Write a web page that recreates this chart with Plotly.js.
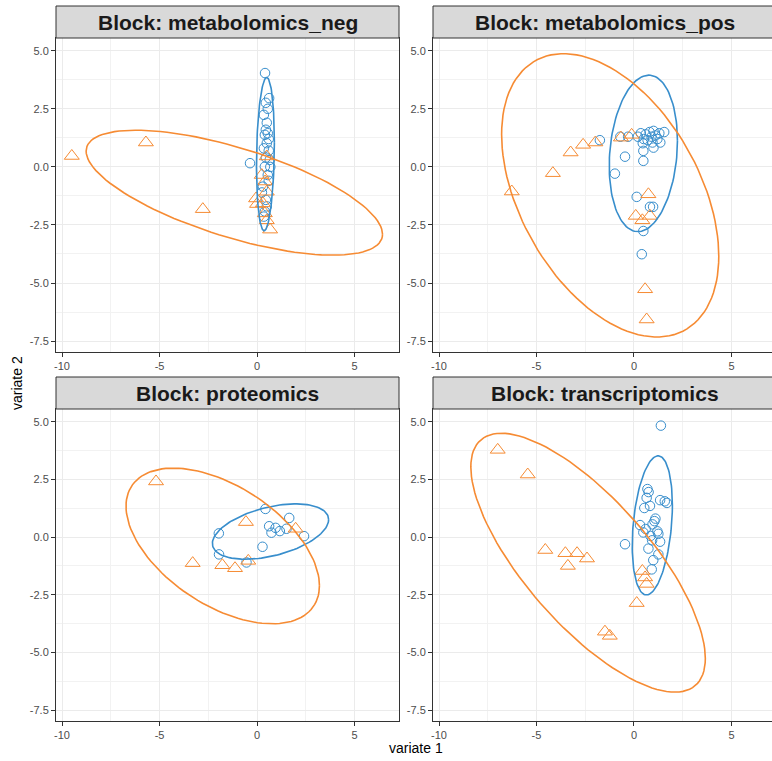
<!DOCTYPE html>
<html>
<head>
<meta charset="utf-8">
<script src="https://cdn.plot.ly/plotly-3.0.1.min.js"></script>
<style>
html,body{margin:0;padding:0;background:#fff;}
#chart{width:772px;height:761px;}
</style>
</head>
<body>
<div id="chart"></div>
<script>
// ---- Data ----
const blocks = ["metabolomics_neg", "metabolomics_pos", "proteomics", "transcriptomics"];

const negCircX = [0.41,0.62,0.45,0.55,0.35,0.5,0.45,0.55,0.4,0.6,0.5,0.35,0.6,0.45,0.65,-0.36,0.4,0.68,0.55,0.3,0.25,0.45,0.5,0.4,0.35,0.6];
const negCircY = [4.04,2.96,2.76,2.5,2.24,1.9,1.6,1.45,1.38,1.2,1.02,0.8,0.7,0.4,0.3,0.16,0.01,0.0,-0.35,-0.85,-1.1,-1.42,-1.7,-1.92,-2.14,-0.6];
const negTriX = [-9.5,-5.7,-2.78,0.5,0.41,0.24,0.5,-0.05,0.3,0.0,0.4,0.5,0.67];
const negTriY = [0.47,1.05,-1.82,0.45,-0.63,-0.35,-1.07,-1.36,-1.57,-1.6,-2.0,-2.3,-2.7];

const posCircX = [-1.75,-0.46,-0.98,0.14,0.82,0.98,0.48,0.4,0.48,0.48,1.0,-0.7,-0.3,0.2,0.35,0.5,0.6,0.7,0.8,0.9,1.0,1.1,1.2,1.3,1.55,1.35,0.95,0.45];
const posCircY = [1.15,0.44,-0.29,-1.29,-1.72,-1.72,-2.76,-3.76,0.69,0.26,0.83,1.3,1.3,1.3,1.45,1.2,1.4,1.15,1.5,1.3,1.55,1.35,1.2,1.45,1.5,1.05,1.05,1.02];
const posTriX = [-6.27,-4.16,-3.25,-2.61,-1.98,-0.67,-0.12,0.74,0.09,0.43,0.82,0.57,0.65];
const posTriY = [-1.06,-0.27,0.62,0.95,1.05,1.26,1.38,-1.18,-2.11,-2.3,-2.11,-5.27,-6.57];

const protCircX = [0.43,-1.96,-1.95,-0.54,0.28,0.62,0.74,0.95,1.17,1.51,1.65,2.41];
const protCircY = [1.22,0.16,-0.75,-1.1,-0.42,0.47,0.19,0.4,0.26,0.36,0.83,0.04];
const protTriX = [-5.18,-3.3,-1.78,-1.13,-0.45,-0.57,1.98];
const protTriY = [2.41,-1.13,-1.22,-1.35,-1.03,0.65,0.36];

const transCircX = [1.38,-0.46,0.69,0.75,0.65,1.34,1.69,1.58,0.53,0.82,0.31,1.05,0.95,0.48,1.25,1.2,0.93,1.34,0.74,1.25,0.99,0.91,0.6,1.1,0.85];
const transCircY = [4.83,-0.31,2.08,1.95,1.7,1.6,1.48,1.55,1.26,1.35,0.52,0.69,0.55,0.2,0.14,0.25,-0.14,-0.2,-0.5,-0.75,-1.0,-1.4,0.35,0.8,0.05];
const transTriX = [-6.99,-5.45,-4.55,-3.52,-2.92,-2.41,-3.39,0.43,0.57,0.65,0.14,-1.49,-1.24];
const transTriY = [3.78,2.71,-0.56,-0.7,-0.7,-0.93,-1.25,-1.47,-1.75,-2.03,-2.86,-4.1,-4.28];

// confidence ellipse parameters per block (centre, half-extent in x / y, correlation)
const blueEllCx  = [0.43, 0.48, 0.69, 0.94];
const blueEllCy  = [0.55, 0.58, 0.24, 0.505];
const blueEllHx  = [0.46, 1.75, 2.98, 1.03];
const blueEllHy  = [3.3, 3.37, 1.2, 3.015];
const blueEllRho = [0.15, 0.16, 0.43, 0.29];
const orangeEllCx  = [-1.165, -1.22, -1.76, -2.355];
const orangeEllCy  = [-1.11, -1.225, -0.385, -1.11];
const orangeEllHx  = [7.6, 5.57, 4.96, 6.015];
const orangeEllHy  = [2.69, 6.1, 3.375, 5.61];
const orangeEllRho = [-0.665, -0.43, -0.51, -0.74];

const xTickVals = [-10, -5, 0, 5];
const xTickText = ["-10", "-5", "0", "5"];
const yTickVals = [-7.5, -5, -2.5, 0, 2.5, 5];
const yTickText = ["-7.5", "-5.0", "-2.5", "0.0", "2.5", "5.0"];

// ---- Build ----
const BLUE = "#388ECC", ORANGE = "#F68B33";
const circX = [negCircX, posCircX, protCircX, transCircX];
const circY = [negCircY, posCircY, protCircY, transCircY];
const triX = [negTriX, posTriX, protTriX, transTriX];
const triY = [negTriY, posTriY, protTriY, transTriY];

function ellipsePath(cx, cy, hx, hy, rho) {
  const xs = [], ys = [], n = 120, s = Math.sqrt(1 - rho * rho);
  for (let i = 0; i <= n; i++) {
    const t = 2 * Math.PI * i / n;
    xs.push(cx + hx * Math.cos(t));
    ys.push(cy + hy * (rho * Math.cos(t) + s * Math.sin(t)));
  }
  return {xs, ys};
}

const traces = [];
for (let b = 0; b < 4; b++) {
  const xa = b === 0 ? "x" : "x" + (b + 1);
  const ya = b === 0 ? "y" : "y" + (b + 1);
  traces.push({type: "scatter", mode: "markers", x: circX[b], y: circY[b], xaxis: xa, yaxis: ya,
    marker: {symbol: "circle-open", size: 9.5, color: BLUE, line: {width: 1}}, showlegend: false});
  traces.push({type: "scatter", mode: "markers", x: triX[b], y: triY[b], xaxis: xa, yaxis: ya,
    marker: {symbol: "triangle-up-open", size: 13, color: ORANGE, line: {width: 1}}, showlegend: false});
  const eb = ellipsePath(blueEllCx[b], blueEllCy[b], blueEllHx[b], blueEllHy[b], blueEllRho[b]);
  traces.push({type: "scatter", mode: "lines", x: eb.xs, y: eb.ys, xaxis: xa, yaxis: ya,
    line: {color: BLUE, width: 1.6}, showlegend: false, hoverinfo: "skip"});
  const eo = ellipsePath(orangeEllCx[b], orangeEllCy[b], orangeEllHx[b], orangeEllHy[b], orangeEllRho[b]);
  traces.push({type: "scatter", mode: "lines", x: eo.xs, y: eo.ys, xaxis: xa, yaxis: ya,
    line: {color: ORANGE, width: 1.6}, showlegend: false, hoverinfo: "skip"});
}

const W = 772, H = 761;
const px = v => v / W, py = v => 1 - v / H;
const xDomL = [px(56), px(399)], xDomR = [px(433), 1];
const yDomT = [py(352), py(38)], yDomB = [py(721), py(409)];
const yRange = [-7.97, 5.55];

function xAxis(dom, range, anchor) {
  return {domain: dom, range: range, anchor: anchor, tickmode: "array", tickvals: xTickVals, ticktext: xTickText,
    showgrid: true, gridcolor: "#ebebeb", gridwidth: 1, zeroline: false,
    showline: true, mirror: true, linecolor: "#333333", linewidth: 1,
    ticks: "outside", ticklen: 4, tickcolor: "#333333", tickwidth: 1,
    tickfont: {family: "Liberation Sans, Arial, sans-serif", size: 11, color: "#4d4d4d"},
    minor: {tickmode: "array", tickvals: [-7.5, -2.5, 2.5, 7.5], showgrid: true, gridcolor: "#f2f2f2", gridwidth: 1, ticks: ""},
    fixedrange: true};
}
function yAxis(dom, anchor, mirror) {
  return {domain: dom, range: yRange, anchor: anchor, tickmode: "array", tickvals: yTickVals, ticktext: yTickText,
    showgrid: true, gridcolor: "#ebebeb", gridwidth: 1, zeroline: false,
    showline: true, mirror: mirror, linecolor: "#333333", linewidth: 1,
    ticks: "outside", ticklen: 4, tickcolor: "#333333", tickwidth: 1,
    tickfont: {family: "Liberation Sans, Arial, sans-serif", size: 11, color: "#4d4d4d"},
    minor: {tickmode: "array", tickvals: [-6.25, -3.75, -1.25, 1.25, 3.75], showgrid: true, gridcolor: "#f2f2f2", gridwidth: 1, ticks: ""},
    fixedrange: true};
}
const xrL = [-10.31, 7.28];
const xrR = [-10.31, 7.08];

const stripFont = {family: "Liberation Sans, Arial, sans-serif", size: 21, color: "#1a1a1a"};
const shapes = [
  {type: "rect", xref: "paper", yref: "paper", x0: px(56), x1: px(399), y0: py(38), y1: py(6), fillcolor: "#d9d9d9", line: {color: "#333333", width: 1}},
  {type: "rect", xref: "paper", yref: "paper", x0: px(433), x1: 1.02, y0: py(38), y1: py(6), fillcolor: "#d9d9d9", line: {color: "#333333", width: 1}},
  {type: "rect", xref: "paper", yref: "paper", x0: px(56), x1: px(399), y0: py(409), y1: py(377), fillcolor: "#d9d9d9", line: {color: "#333333", width: 1}},
  {type: "rect", xref: "paper", yref: "paper", x0: px(433), x1: 1.02, y0: py(409), y1: py(377), fillcolor: "#d9d9d9", line: {color: "#333333", width: 1}}
];
const stripCx = [px(227.5), px(604.5), px(227.5), px(604.5)];
const stripCy = [py(22), py(22), py(393), py(393)];
const annotations = blocks.map((b, i) => ({
  xref: "paper", yref: "paper", x: stripCx[i], y: stripCy[i], xanchor: "center", yanchor: "middle",
  text: "<b>Block: " + b + "</b>", showarrow: false, font: stripFont
}));
annotations.push({xref: "paper", yref: "paper", x: px(416), y: py(748), xanchor: "center", yanchor: "middle",
  text: "variate 1", showarrow: false, font: {family: "Liberation Sans, Arial, sans-serif", size: 14, color: "#000"}});
annotations.push({xref: "paper", yref: "paper", x: px(17), y: py(383), xanchor: "center", yanchor: "middle",
  text: "variate 2", textangle: -90, showarrow: false, font: {family: "Liberation Sans, Arial, sans-serif", size: 14, color: "#000"}});

const layout = {
  width: W, height: H, margin: {l: 0, r: 0, t: 0, b: 0},
  paper_bgcolor: "#fff", plot_bgcolor: "#fff", showlegend: false,
  xaxis: xAxis(xDomL, xrL, "y"), yaxis: yAxis(yDomT, "x", true),
  xaxis2: xAxis(xDomR, xrR, "y2"), yaxis2: yAxis(yDomT, "x2", false),
  xaxis3: xAxis(xDomL, xrL, "y3"), yaxis3: yAxis(yDomB, "x3", true),
  xaxis4: xAxis(xDomR, xrR, "y4"), yaxis4: yAxis(yDomB, "x4", false),
  shapes: shapes, annotations: annotations
};
Plotly.newPlot("chart", traces, layout, {displayModeBar: false, staticPlot: true});
</script>
</body>
</html>
